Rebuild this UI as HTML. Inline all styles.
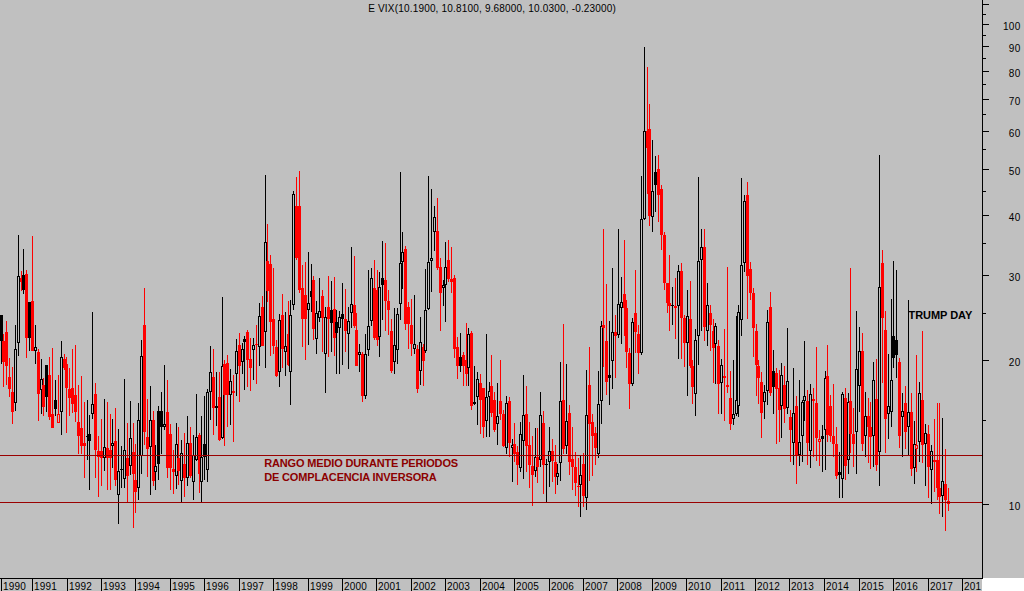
<!DOCTYPE html>
<html><head><meta charset="utf-8"><title>VIX</title>
<style>html,body{margin:0;padding:0;background:#c0c0c0;}body{width:1024px;height:591px;overflow:hidden;position:relative;font-family:"Liberation Sans",Arial,sans-serif;}
svg{position:absolute;left:0;top:0;display:block}
.t{position:absolute;white-space:nowrap;line-height:1;color:#000;}
.yl{font-size:10px;text-align:right;width:40px;letter-spacing:0.3px}
.xl{font-size:10px;top:581.5px;letter-spacing:0.2px}
</style></head><body>
<svg width="1024" height="591" viewBox="0 0 1024 591" shape-rendering="crispEdges">
<rect x="0" y="0" width="1024" height="591" fill="#c0c0c0"/>
<rect x="983" y="578" width="41" height="13" fill="#ffffff"/>
<rect x="982" y="579" width="1" height="12" fill="#ffffff"/>
<rect x="1" y="315" width="1" height="49" fill="#000000"/>
<rect x="0" y="315" width="3" height="26" fill="#000000"/>
<rect x="3" y="334" width="1" height="53" fill="#ff0000"/>
<rect x="2" y="341" width="3" height="21" fill="#ff0000"/>
<rect x="6" y="321" width="1" height="64" fill="#ff0000"/>
<rect x="5" y="332" width="3" height="34" fill="#ff0000"/>
<rect x="9" y="358" width="1" height="39" fill="#ff0000"/>
<rect x="8" y="377" width="3" height="12" fill="#ff0000"/>
<rect x="12" y="367" width="1" height="57" fill="#ff0000"/>
<rect x="11" y="392" width="3" height="20" fill="#ff0000"/>
<rect x="15" y="325" width="1" height="24" fill="#000000"/>
<rect x="15" y="403" width="1" height="8" fill="#000000"/>
<rect x="14" y="349" width="3" height="1" fill="#000000"/>
<rect x="14" y="402" width="3" height="1" fill="#000000"/>
<rect x="14" y="349" width="1" height="54" fill="#000000"/>
<rect x="16" y="349" width="1" height="54" fill="#000000"/>
<rect x="18" y="235" width="1" height="41" fill="#000000"/>
<rect x="18" y="343" width="1" height="13" fill="#000000"/>
<rect x="17" y="276" width="3" height="1" fill="#000000"/>
<rect x="17" y="342" width="3" height="1" fill="#000000"/>
<rect x="17" y="276" width="1" height="67" fill="#000000"/>
<rect x="19" y="276" width="1" height="67" fill="#000000"/>
<rect x="21" y="271" width="1" height="20" fill="#ff0000"/>
<rect x="20" y="278" width="3" height="4" fill="#ff0000"/>
<rect x="23" y="249" width="1" height="45" fill="#000000"/>
<rect x="22" y="275" width="3" height="15" fill="#000000"/>
<rect x="26" y="270" width="1" height="88" fill="#ff0000"/>
<rect x="25" y="274" width="3" height="64" fill="#ff0000"/>
<rect x="29" y="302" width="1" height="49" fill="#000000"/>
<rect x="28" y="302" width="3" height="36" fill="#000000"/>
<rect x="32" y="236" width="1" height="115" fill="#ff0000"/>
<rect x="31" y="301" width="3" height="50" fill="#ff0000"/>
<rect x="35" y="325" width="1" height="22" fill="#000000"/>
<rect x="35" y="351" width="1" height="13" fill="#000000"/>
<rect x="34" y="347" width="3" height="1" fill="#000000"/>
<rect x="34" y="350" width="3" height="1" fill="#000000"/>
<rect x="34" y="347" width="1" height="4" fill="#000000"/>
<rect x="36" y="347" width="1" height="4" fill="#000000"/>
<rect x="38" y="349" width="1" height="72" fill="#ff0000"/>
<rect x="37" y="352" width="3" height="42" fill="#ff0000"/>
<rect x="41" y="359" width="1" height="20" fill="#000000"/>
<rect x="41" y="390" width="1" height="24" fill="#000000"/>
<rect x="40" y="379" width="3" height="1" fill="#000000"/>
<rect x="40" y="389" width="3" height="1" fill="#000000"/>
<rect x="40" y="379" width="1" height="11" fill="#000000"/>
<rect x="42" y="379" width="1" height="11" fill="#000000"/>
<rect x="43" y="378" width="1" height="38" fill="#ff0000"/>
<rect x="42" y="385" width="3" height="22" fill="#ff0000"/>
<rect x="46" y="365" width="1" height="47" fill="#000000"/>
<rect x="45" y="365" width="3" height="32" fill="#000000"/>
<rect x="49" y="357" width="1" height="63" fill="#ff0000"/>
<rect x="48" y="375" width="3" height="42" fill="#ff0000"/>
<rect x="52" y="348" width="1" height="80" fill="#ff0000"/>
<rect x="51" y="414" width="3" height="14" fill="#ff0000"/>
<rect x="55" y="380" width="1" height="36" fill="#000000"/>
<rect x="54" y="400" width="3" height="9" fill="#000000"/>
<rect x="58" y="375" width="1" height="39" fill="#ff0000"/>
<rect x="58" y="423" width="1" height="0" fill="#ff0000"/>
<rect x="57" y="414" width="3" height="1" fill="#ff0000"/>
<rect x="57" y="422" width="3" height="1" fill="#ff0000"/>
<rect x="57" y="414" width="1" height="9" fill="#ff0000"/>
<rect x="59" y="414" width="1" height="9" fill="#ff0000"/>
<rect x="61" y="341" width="1" height="16" fill="#000000"/>
<rect x="61" y="412" width="1" height="23" fill="#000000"/>
<rect x="60" y="357" width="3" height="1" fill="#000000"/>
<rect x="60" y="411" width="3" height="1" fill="#000000"/>
<rect x="60" y="357" width="1" height="55" fill="#000000"/>
<rect x="62" y="357" width="1" height="55" fill="#000000"/>
<rect x="64" y="354" width="1" height="16" fill="#ff0000"/>
<rect x="63" y="359" width="3" height="9" fill="#ff0000"/>
<rect x="66" y="357" width="1" height="76" fill="#ff0000"/>
<rect x="65" y="364" width="3" height="24" fill="#ff0000"/>
<rect x="69" y="368" width="1" height="48" fill="#ff0000"/>
<rect x="68" y="389" width="3" height="9" fill="#ff0000"/>
<rect x="72" y="349" width="1" height="64" fill="#ff0000"/>
<rect x="71" y="388" width="3" height="16" fill="#ff0000"/>
<rect x="75" y="345" width="1" height="77" fill="#ff0000"/>
<rect x="74" y="395" width="3" height="17" fill="#ff0000"/>
<rect x="78" y="385" width="1" height="69" fill="#ff0000"/>
<rect x="77" y="422" width="3" height="14" fill="#ff0000"/>
<rect x="81" y="376" width="1" height="78" fill="#ff0000"/>
<rect x="80" y="428" width="3" height="18" fill="#ff0000"/>
<rect x="84" y="402" width="1" height="76" fill="#ff0000"/>
<rect x="83" y="443" width="3" height="3" fill="#ff0000"/>
<rect x="87" y="400" width="1" height="36" fill="#000000"/>
<rect x="87" y="437" width="1" height="23" fill="#000000"/>
<rect x="86" y="436" width="3" height="1" fill="#000000"/>
<rect x="89" y="415" width="1" height="75" fill="#000000"/>
<rect x="88" y="434" width="3" height="7" fill="#000000"/>
<rect x="92" y="312" width="1" height="92" fill="#000000"/>
<rect x="92" y="414" width="1" height="5" fill="#000000"/>
<rect x="91" y="404" width="3" height="1" fill="#000000"/>
<rect x="91" y="413" width="3" height="1" fill="#000000"/>
<rect x="91" y="404" width="1" height="10" fill="#000000"/>
<rect x="93" y="404" width="1" height="10" fill="#000000"/>
<rect x="95" y="383" width="1" height="95" fill="#ff0000"/>
<rect x="94" y="394" width="3" height="56" fill="#ff0000"/>
<rect x="98" y="436" width="1" height="61" fill="#ff0000"/>
<rect x="97" y="451" width="3" height="6" fill="#ff0000"/>
<rect x="101" y="419" width="1" height="67" fill="#ff0000"/>
<rect x="100" y="451" width="3" height="7" fill="#ff0000"/>
<rect x="104" y="399" width="1" height="48" fill="#000000"/>
<rect x="104" y="458" width="1" height="13" fill="#000000"/>
<rect x="103" y="447" width="3" height="1" fill="#000000"/>
<rect x="103" y="457" width="3" height="1" fill="#000000"/>
<rect x="103" y="447" width="1" height="11" fill="#000000"/>
<rect x="105" y="447" width="1" height="11" fill="#000000"/>
<rect x="107" y="402" width="1" height="88" fill="#ff0000"/>
<rect x="106" y="448" width="3" height="10" fill="#ff0000"/>
<rect x="110" y="414" width="1" height="76" fill="#ff0000"/>
<rect x="109" y="450" width="3" height="8" fill="#ff0000"/>
<rect x="112" y="419" width="1" height="24" fill="#000000"/>
<rect x="112" y="446" width="1" height="22" fill="#000000"/>
<rect x="111" y="443" width="3" height="1" fill="#000000"/>
<rect x="111" y="445" width="3" height="1" fill="#000000"/>
<rect x="111" y="443" width="1" height="3" fill="#000000"/>
<rect x="113" y="443" width="1" height="3" fill="#000000"/>
<rect x="115" y="408" width="1" height="78" fill="#ff0000"/>
<rect x="114" y="441" width="3" height="39" fill="#ff0000"/>
<rect x="118" y="429" width="1" height="42" fill="#000000"/>
<rect x="118" y="495" width="1" height="29" fill="#000000"/>
<rect x="117" y="471" width="3" height="1" fill="#000000"/>
<rect x="117" y="494" width="3" height="1" fill="#000000"/>
<rect x="117" y="471" width="1" height="24" fill="#000000"/>
<rect x="119" y="471" width="1" height="24" fill="#000000"/>
<rect x="121" y="446" width="1" height="23" fill="#000000"/>
<rect x="121" y="470" width="1" height="18" fill="#000000"/>
<rect x="120" y="469" width="3" height="1" fill="#000000"/>
<rect x="124" y="379" width="1" height="71" fill="#000000"/>
<rect x="124" y="479" width="1" height="9" fill="#000000"/>
<rect x="123" y="450" width="3" height="1" fill="#000000"/>
<rect x="123" y="478" width="3" height="1" fill="#000000"/>
<rect x="123" y="450" width="1" height="29" fill="#000000"/>
<rect x="125" y="450" width="1" height="29" fill="#000000"/>
<rect x="127" y="423" width="1" height="80" fill="#ff0000"/>
<rect x="126" y="458" width="3" height="18" fill="#ff0000"/>
<rect x="130" y="401" width="1" height="37" fill="#000000"/>
<rect x="130" y="466" width="1" height="9" fill="#000000"/>
<rect x="129" y="438" width="3" height="1" fill="#000000"/>
<rect x="129" y="465" width="3" height="1" fill="#000000"/>
<rect x="129" y="438" width="1" height="28" fill="#000000"/>
<rect x="131" y="438" width="1" height="28" fill="#000000"/>
<rect x="133" y="423" width="1" height="105" fill="#ff0000"/>
<rect x="132" y="452" width="3" height="22" fill="#ff0000"/>
<rect x="135" y="444" width="1" height="69" fill="#ff0000"/>
<rect x="134" y="480" width="3" height="12" fill="#ff0000"/>
<rect x="138" y="403" width="1" height="17" fill="#000000"/>
<rect x="138" y="488" width="1" height="12" fill="#000000"/>
<rect x="137" y="420" width="3" height="1" fill="#000000"/>
<rect x="137" y="487" width="3" height="1" fill="#000000"/>
<rect x="137" y="420" width="1" height="68" fill="#000000"/>
<rect x="139" y="420" width="1" height="68" fill="#000000"/>
<rect x="141" y="340" width="1" height="16" fill="#000000"/>
<rect x="141" y="456" width="1" height="18" fill="#000000"/>
<rect x="140" y="356" width="3" height="1" fill="#000000"/>
<rect x="140" y="455" width="3" height="1" fill="#000000"/>
<rect x="140" y="356" width="1" height="100" fill="#000000"/>
<rect x="142" y="356" width="1" height="100" fill="#000000"/>
<rect x="144" y="288" width="1" height="157" fill="#ff0000"/>
<rect x="143" y="325" width="3" height="107" fill="#ff0000"/>
<rect x="147" y="399" width="1" height="78" fill="#ff0000"/>
<rect x="146" y="437" width="3" height="12" fill="#ff0000"/>
<rect x="150" y="386" width="1" height="34" fill="#000000"/>
<rect x="150" y="447" width="1" height="48" fill="#000000"/>
<rect x="149" y="420" width="3" height="1" fill="#000000"/>
<rect x="149" y="446" width="3" height="1" fill="#000000"/>
<rect x="149" y="420" width="1" height="27" fill="#000000"/>
<rect x="151" y="420" width="1" height="27" fill="#000000"/>
<rect x="153" y="411" width="1" height="75" fill="#ff0000"/>
<rect x="152" y="420" width="3" height="61" fill="#ff0000"/>
<rect x="155" y="445" width="1" height="21" fill="#000000"/>
<rect x="155" y="472" width="1" height="18" fill="#000000"/>
<rect x="154" y="466" width="3" height="1" fill="#000000"/>
<rect x="154" y="471" width="3" height="1" fill="#000000"/>
<rect x="154" y="466" width="1" height="6" fill="#000000"/>
<rect x="156" y="466" width="1" height="6" fill="#000000"/>
<rect x="158" y="406" width="1" height="74" fill="#000000"/>
<rect x="157" y="411" width="3" height="53" fill="#000000"/>
<rect x="161" y="392" width="1" height="62" fill="#000000"/>
<rect x="160" y="411" width="3" height="16" fill="#000000"/>
<rect x="164" y="365" width="1" height="59" fill="#000000"/>
<rect x="164" y="427" width="1" height="3" fill="#000000"/>
<rect x="163" y="424" width="3" height="1" fill="#000000"/>
<rect x="163" y="426" width="3" height="1" fill="#000000"/>
<rect x="163" y="424" width="1" height="3" fill="#000000"/>
<rect x="165" y="424" width="1" height="3" fill="#000000"/>
<rect x="167" y="380" width="1" height="98" fill="#ff0000"/>
<rect x="166" y="412" width="3" height="56" fill="#ff0000"/>
<rect x="170" y="424" width="1" height="66" fill="#ff0000"/>
<rect x="169" y="434" width="3" height="34" fill="#ff0000"/>
<rect x="173" y="450" width="1" height="44" fill="#ff0000"/>
<rect x="172" y="469" width="3" height="3" fill="#ff0000"/>
<rect x="176" y="423" width="1" height="21" fill="#000000"/>
<rect x="176" y="476" width="1" height="13" fill="#000000"/>
<rect x="175" y="444" width="3" height="1" fill="#000000"/>
<rect x="175" y="475" width="3" height="1" fill="#000000"/>
<rect x="175" y="444" width="1" height="32" fill="#000000"/>
<rect x="177" y="444" width="1" height="32" fill="#000000"/>
<rect x="178" y="427" width="1" height="58" fill="#ff0000"/>
<rect x="177" y="458" width="3" height="13" fill="#ff0000"/>
<rect x="181" y="440" width="1" height="13" fill="#000000"/>
<rect x="181" y="481" width="1" height="22" fill="#000000"/>
<rect x="180" y="453" width="3" height="1" fill="#000000"/>
<rect x="180" y="480" width="3" height="1" fill="#000000"/>
<rect x="180" y="453" width="1" height="28" fill="#000000"/>
<rect x="182" y="453" width="1" height="28" fill="#000000"/>
<rect x="184" y="433" width="1" height="64" fill="#ff0000"/>
<rect x="183" y="464" width="3" height="14" fill="#ff0000"/>
<rect x="187" y="416" width="1" height="27" fill="#000000"/>
<rect x="187" y="478" width="1" height="8" fill="#000000"/>
<rect x="186" y="443" width="3" height="1" fill="#000000"/>
<rect x="186" y="477" width="3" height="1" fill="#000000"/>
<rect x="186" y="443" width="1" height="35" fill="#000000"/>
<rect x="188" y="443" width="1" height="35" fill="#000000"/>
<rect x="190" y="427" width="1" height="51" fill="#ff0000"/>
<rect x="189" y="443" width="3" height="33" fill="#ff0000"/>
<rect x="193" y="435" width="1" height="20" fill="#000000"/>
<rect x="193" y="482" width="1" height="18" fill="#000000"/>
<rect x="192" y="455" width="3" height="1" fill="#000000"/>
<rect x="192" y="481" width="3" height="1" fill="#000000"/>
<rect x="192" y="455" width="1" height="27" fill="#000000"/>
<rect x="194" y="455" width="1" height="27" fill="#000000"/>
<rect x="196" y="394" width="1" height="43" fill="#000000"/>
<rect x="196" y="460" width="1" height="1" fill="#000000"/>
<rect x="195" y="437" width="3" height="1" fill="#000000"/>
<rect x="195" y="459" width="3" height="1" fill="#000000"/>
<rect x="195" y="437" width="1" height="23" fill="#000000"/>
<rect x="197" y="437" width="1" height="23" fill="#000000"/>
<rect x="199" y="433" width="1" height="60" fill="#ff0000"/>
<rect x="198" y="435" width="3" height="39" fill="#ff0000"/>
<rect x="201" y="416" width="1" height="41" fill="#000000"/>
<rect x="201" y="482" width="1" height="21" fill="#000000"/>
<rect x="200" y="457" width="3" height="1" fill="#000000"/>
<rect x="200" y="481" width="3" height="1" fill="#000000"/>
<rect x="200" y="457" width="1" height="25" fill="#000000"/>
<rect x="202" y="457" width="1" height="25" fill="#000000"/>
<rect x="204" y="396" width="1" height="84" fill="#000000"/>
<rect x="203" y="444" width="3" height="13" fill="#000000"/>
<rect x="207" y="389" width="1" height="3" fill="#000000"/>
<rect x="207" y="470" width="1" height="12" fill="#000000"/>
<rect x="206" y="392" width="3" height="1" fill="#000000"/>
<rect x="206" y="469" width="3" height="1" fill="#000000"/>
<rect x="206" y="392" width="1" height="78" fill="#000000"/>
<rect x="208" y="392" width="1" height="78" fill="#000000"/>
<rect x="210" y="346" width="1" height="26" fill="#000000"/>
<rect x="210" y="392" width="1" height="28" fill="#000000"/>
<rect x="209" y="372" width="3" height="1" fill="#000000"/>
<rect x="209" y="391" width="3" height="1" fill="#000000"/>
<rect x="209" y="372" width="1" height="20" fill="#000000"/>
<rect x="211" y="372" width="1" height="20" fill="#000000"/>
<rect x="213" y="349" width="1" height="86" fill="#ff0000"/>
<rect x="212" y="377" width="3" height="31" fill="#ff0000"/>
<rect x="216" y="372" width="1" height="34" fill="#000000"/>
<rect x="216" y="408" width="1" height="18" fill="#000000"/>
<rect x="215" y="406" width="3" height="2" fill="#000000"/>
<rect x="219" y="372" width="1" height="69" fill="#ff0000"/>
<rect x="218" y="397" width="3" height="43" fill="#ff0000"/>
<rect x="222" y="297" width="1" height="69" fill="#000000"/>
<rect x="222" y="438" width="1" height="1" fill="#000000"/>
<rect x="221" y="366" width="3" height="1" fill="#000000"/>
<rect x="221" y="437" width="3" height="1" fill="#000000"/>
<rect x="221" y="366" width="1" height="72" fill="#000000"/>
<rect x="223" y="366" width="1" height="72" fill="#000000"/>
<rect x="224" y="360" width="1" height="86" fill="#ff0000"/>
<rect x="223" y="364" width="3" height="31" fill="#ff0000"/>
<rect x="227" y="355" width="1" height="72" fill="#ff0000"/>
<rect x="226" y="363" width="3" height="32" fill="#ff0000"/>
<rect x="230" y="369" width="1" height="12" fill="#000000"/>
<rect x="230" y="395" width="1" height="30" fill="#000000"/>
<rect x="229" y="381" width="3" height="1" fill="#000000"/>
<rect x="229" y="394" width="3" height="1" fill="#000000"/>
<rect x="229" y="381" width="1" height="14" fill="#000000"/>
<rect x="231" y="381" width="1" height="14" fill="#000000"/>
<rect x="233" y="375" width="1" height="67" fill="#ff0000"/>
<rect x="232" y="391" width="3" height="2" fill="#ff0000"/>
<rect x="236" y="339" width="1" height="12" fill="#000000"/>
<rect x="236" y="374" width="1" height="22" fill="#000000"/>
<rect x="235" y="351" width="3" height="1" fill="#000000"/>
<rect x="235" y="373" width="3" height="1" fill="#000000"/>
<rect x="235" y="351" width="1" height="23" fill="#000000"/>
<rect x="237" y="351" width="1" height="23" fill="#000000"/>
<rect x="239" y="333" width="1" height="69" fill="#ff0000"/>
<rect x="238" y="345" width="3" height="21" fill="#ff0000"/>
<rect x="242" y="343" width="1" height="6" fill="#000000"/>
<rect x="242" y="362" width="1" height="12" fill="#000000"/>
<rect x="241" y="349" width="3" height="1" fill="#000000"/>
<rect x="241" y="361" width="3" height="1" fill="#000000"/>
<rect x="241" y="349" width="1" height="13" fill="#000000"/>
<rect x="243" y="349" width="1" height="13" fill="#000000"/>
<rect x="244" y="336" width="1" height="54" fill="#000000"/>
<rect x="243" y="339" width="3" height="3" fill="#000000"/>
<rect x="247" y="330" width="1" height="57" fill="#ff0000"/>
<rect x="246" y="332" width="3" height="28" fill="#ff0000"/>
<rect x="250" y="338" width="1" height="53" fill="#ff0000"/>
<rect x="249" y="359" width="3" height="9" fill="#ff0000"/>
<rect x="253" y="338" width="1" height="7" fill="#000000"/>
<rect x="253" y="350" width="1" height="30" fill="#000000"/>
<rect x="252" y="345" width="3" height="1" fill="#000000"/>
<rect x="252" y="349" width="3" height="1" fill="#000000"/>
<rect x="252" y="345" width="1" height="5" fill="#000000"/>
<rect x="254" y="345" width="1" height="5" fill="#000000"/>
<rect x="256" y="325" width="1" height="59" fill="#ff0000"/>
<rect x="255" y="344" width="3" height="1" fill="#ff0000"/>
<rect x="259" y="303" width="1" height="13" fill="#000000"/>
<rect x="259" y="347" width="1" height="19" fill="#000000"/>
<rect x="258" y="316" width="3" height="1" fill="#000000"/>
<rect x="258" y="346" width="3" height="1" fill="#000000"/>
<rect x="258" y="316" width="1" height="31" fill="#000000"/>
<rect x="260" y="316" width="1" height="31" fill="#000000"/>
<rect x="262" y="296" width="1" height="50" fill="#ff0000"/>
<rect x="261" y="307" width="3" height="39" fill="#ff0000"/>
<rect x="265" y="175" width="1" height="67" fill="#000000"/>
<rect x="265" y="332" width="1" height="36" fill="#000000"/>
<rect x="264" y="242" width="3" height="1" fill="#000000"/>
<rect x="264" y="331" width="3" height="1" fill="#000000"/>
<rect x="264" y="242" width="1" height="90" fill="#000000"/>
<rect x="266" y="242" width="1" height="90" fill="#000000"/>
<rect x="267" y="224" width="1" height="78" fill="#ff0000"/>
<rect x="266" y="261" width="3" height="30" fill="#ff0000"/>
<rect x="270" y="255" width="1" height="101" fill="#ff0000"/>
<rect x="269" y="264" width="3" height="58" fill="#ff0000"/>
<rect x="273" y="268" width="1" height="86" fill="#ff0000"/>
<rect x="272" y="319" width="3" height="27" fill="#ff0000"/>
<rect x="276" y="340" width="1" height="37" fill="#ff0000"/>
<rect x="275" y="347" width="3" height="29" fill="#ff0000"/>
<rect x="279" y="314" width="1" height="6" fill="#000000"/>
<rect x="279" y="372" width="1" height="15" fill="#000000"/>
<rect x="278" y="320" width="3" height="1" fill="#000000"/>
<rect x="278" y="371" width="3" height="1" fill="#000000"/>
<rect x="278" y="320" width="1" height="52" fill="#000000"/>
<rect x="280" y="320" width="1" height="52" fill="#000000"/>
<rect x="282" y="294" width="1" height="74" fill="#ff0000"/>
<rect x="281" y="315" width="3" height="34" fill="#ff0000"/>
<rect x="285" y="312" width="1" height="34" fill="#000000"/>
<rect x="285" y="352" width="1" height="24" fill="#000000"/>
<rect x="284" y="346" width="3" height="1" fill="#000000"/>
<rect x="284" y="351" width="3" height="1" fill="#000000"/>
<rect x="284" y="346" width="1" height="6" fill="#000000"/>
<rect x="286" y="346" width="1" height="6" fill="#000000"/>
<rect x="288" y="301" width="1" height="65" fill="#ff0000"/>
<rect x="287" y="334" width="3" height="31" fill="#ff0000"/>
<rect x="290" y="300" width="1" height="15" fill="#000000"/>
<rect x="290" y="372" width="1" height="33" fill="#000000"/>
<rect x="289" y="315" width="3" height="1" fill="#000000"/>
<rect x="289" y="371" width="3" height="1" fill="#000000"/>
<rect x="289" y="315" width="1" height="57" fill="#000000"/>
<rect x="291" y="315" width="1" height="57" fill="#000000"/>
<rect x="293" y="191" width="1" height="3" fill="#000000"/>
<rect x="293" y="305" width="1" height="5" fill="#000000"/>
<rect x="292" y="194" width="3" height="1" fill="#000000"/>
<rect x="292" y="304" width="3" height="1" fill="#000000"/>
<rect x="292" y="194" width="1" height="111" fill="#000000"/>
<rect x="294" y="194" width="1" height="111" fill="#000000"/>
<rect x="296" y="177" width="1" height="83" fill="#ff0000"/>
<rect x="295" y="206" width="3" height="52" fill="#ff0000"/>
<rect x="299" y="171" width="1" height="122" fill="#ff0000"/>
<rect x="298" y="206" width="3" height="84" fill="#ff0000"/>
<rect x="302" y="265" width="1" height="82" fill="#ff0000"/>
<rect x="301" y="288" width="3" height="31" fill="#ff0000"/>
<rect x="305" y="262" width="1" height="98" fill="#ff0000"/>
<rect x="304" y="295" width="3" height="24" fill="#ff0000"/>
<rect x="308" y="252" width="1" height="51" fill="#000000"/>
<rect x="308" y="310" width="1" height="35" fill="#000000"/>
<rect x="307" y="303" width="3" height="1" fill="#000000"/>
<rect x="307" y="309" width="3" height="1" fill="#000000"/>
<rect x="307" y="303" width="1" height="7" fill="#000000"/>
<rect x="309" y="303" width="1" height="7" fill="#000000"/>
<rect x="311" y="264" width="1" height="48" fill="#000000"/>
<rect x="310" y="291" width="3" height="6" fill="#000000"/>
<rect x="313" y="276" width="1" height="64" fill="#ff0000"/>
<rect x="312" y="280" width="3" height="49" fill="#ff0000"/>
<rect x="316" y="301" width="1" height="12" fill="#000000"/>
<rect x="316" y="339" width="1" height="15" fill="#000000"/>
<rect x="315" y="313" width="3" height="1" fill="#000000"/>
<rect x="315" y="338" width="3" height="1" fill="#000000"/>
<rect x="315" y="313" width="1" height="26" fill="#000000"/>
<rect x="317" y="313" width="1" height="26" fill="#000000"/>
<rect x="319" y="278" width="1" height="33" fill="#000000"/>
<rect x="319" y="318" width="1" height="4" fill="#000000"/>
<rect x="318" y="311" width="3" height="1" fill="#000000"/>
<rect x="318" y="317" width="3" height="1" fill="#000000"/>
<rect x="318" y="311" width="1" height="7" fill="#000000"/>
<rect x="320" y="311" width="1" height="7" fill="#000000"/>
<rect x="322" y="290" width="1" height="62" fill="#ff0000"/>
<rect x="321" y="296" width="3" height="22" fill="#ff0000"/>
<rect x="325" y="307" width="1" height="10" fill="#000000"/>
<rect x="325" y="354" width="1" height="39" fill="#000000"/>
<rect x="324" y="317" width="3" height="1" fill="#000000"/>
<rect x="324" y="353" width="3" height="1" fill="#000000"/>
<rect x="324" y="317" width="1" height="37" fill="#000000"/>
<rect x="326" y="317" width="1" height="37" fill="#000000"/>
<rect x="328" y="276" width="1" height="81" fill="#ff0000"/>
<rect x="327" y="307" width="3" height="12" fill="#ff0000"/>
<rect x="331" y="281" width="1" height="71" fill="#000000"/>
<rect x="330" y="310" width="3" height="13" fill="#000000"/>
<rect x="334" y="277" width="1" height="79" fill="#ff0000"/>
<rect x="333" y="309" width="3" height="29" fill="#ff0000"/>
<rect x="336" y="310" width="1" height="64" fill="#000000"/>
<rect x="335" y="322" width="3" height="11" fill="#000000"/>
<rect x="339" y="311" width="1" height="6" fill="#000000"/>
<rect x="339" y="328" width="1" height="46" fill="#000000"/>
<rect x="338" y="317" width="3" height="1" fill="#000000"/>
<rect x="338" y="327" width="3" height="1" fill="#000000"/>
<rect x="338" y="317" width="1" height="11" fill="#000000"/>
<rect x="340" y="317" width="1" height="11" fill="#000000"/>
<rect x="342" y="283" width="1" height="82" fill="#000000"/>
<rect x="341" y="314" width="3" height="5" fill="#000000"/>
<rect x="345" y="289" width="1" height="63" fill="#ff0000"/>
<rect x="344" y="319" width="3" height="12" fill="#ff0000"/>
<rect x="348" y="307" width="1" height="14" fill="#000000"/>
<rect x="348" y="334" width="1" height="35" fill="#000000"/>
<rect x="347" y="321" width="3" height="1" fill="#000000"/>
<rect x="347" y="333" width="3" height="1" fill="#000000"/>
<rect x="347" y="321" width="1" height="13" fill="#000000"/>
<rect x="349" y="321" width="1" height="13" fill="#000000"/>
<rect x="351" y="247" width="1" height="57" fill="#000000"/>
<rect x="351" y="313" width="1" height="15" fill="#000000"/>
<rect x="350" y="304" width="3" height="1" fill="#000000"/>
<rect x="350" y="312" width="3" height="1" fill="#000000"/>
<rect x="350" y="304" width="1" height="9" fill="#000000"/>
<rect x="352" y="304" width="1" height="9" fill="#000000"/>
<rect x="354" y="256" width="1" height="72" fill="#ff0000"/>
<rect x="353" y="305" width="3" height="21" fill="#ff0000"/>
<rect x="356" y="313" width="1" height="53" fill="#ff0000"/>
<rect x="355" y="330" width="3" height="36" fill="#ff0000"/>
<rect x="359" y="344" width="1" height="8" fill="#000000"/>
<rect x="359" y="355" width="1" height="17" fill="#000000"/>
<rect x="358" y="352" width="3" height="1" fill="#000000"/>
<rect x="358" y="354" width="3" height="1" fill="#000000"/>
<rect x="358" y="352" width="1" height="3" fill="#000000"/>
<rect x="360" y="352" width="1" height="3" fill="#000000"/>
<rect x="362" y="352" width="1" height="50" fill="#ff0000"/>
<rect x="361" y="354" width="3" height="42" fill="#ff0000"/>
<rect x="365" y="334" width="1" height="20" fill="#000000"/>
<rect x="365" y="396" width="1" height="3" fill="#000000"/>
<rect x="364" y="354" width="3" height="1" fill="#000000"/>
<rect x="364" y="395" width="3" height="1" fill="#000000"/>
<rect x="364" y="354" width="1" height="42" fill="#000000"/>
<rect x="366" y="354" width="1" height="42" fill="#000000"/>
<rect x="368" y="270" width="1" height="56" fill="#000000"/>
<rect x="368" y="350" width="1" height="6" fill="#000000"/>
<rect x="367" y="326" width="3" height="1" fill="#000000"/>
<rect x="367" y="349" width="3" height="1" fill="#000000"/>
<rect x="367" y="326" width="1" height="24" fill="#000000"/>
<rect x="369" y="326" width="1" height="24" fill="#000000"/>
<rect x="371" y="268" width="1" height="10" fill="#000000"/>
<rect x="371" y="321" width="1" height="5" fill="#000000"/>
<rect x="370" y="278" width="3" height="1" fill="#000000"/>
<rect x="370" y="320" width="3" height="1" fill="#000000"/>
<rect x="370" y="278" width="1" height="43" fill="#000000"/>
<rect x="372" y="278" width="1" height="43" fill="#000000"/>
<rect x="374" y="260" width="1" height="80" fill="#ff0000"/>
<rect x="373" y="288" width="3" height="50" fill="#ff0000"/>
<rect x="377" y="270" width="1" height="76" fill="#ff0000"/>
<rect x="376" y="290" width="3" height="50" fill="#ff0000"/>
<rect x="379" y="272" width="1" height="15" fill="#000000"/>
<rect x="379" y="337" width="1" height="20" fill="#000000"/>
<rect x="378" y="287" width="3" height="1" fill="#000000"/>
<rect x="378" y="336" width="3" height="1" fill="#000000"/>
<rect x="378" y="287" width="1" height="50" fill="#000000"/>
<rect x="380" y="287" width="1" height="50" fill="#000000"/>
<rect x="382" y="241" width="1" height="79" fill="#000000"/>
<rect x="381" y="278" width="3" height="7" fill="#000000"/>
<rect x="385" y="243" width="1" height="88" fill="#ff0000"/>
<rect x="384" y="280" width="3" height="21" fill="#ff0000"/>
<rect x="388" y="290" width="1" height="45" fill="#ff0000"/>
<rect x="387" y="301" width="3" height="9" fill="#ff0000"/>
<rect x="391" y="319" width="1" height="54" fill="#ff0000"/>
<rect x="390" y="331" width="3" height="40" fill="#ff0000"/>
<rect x="394" y="308" width="1" height="37" fill="#000000"/>
<rect x="394" y="362" width="1" height="12" fill="#000000"/>
<rect x="393" y="345" width="3" height="1" fill="#000000"/>
<rect x="393" y="361" width="3" height="1" fill="#000000"/>
<rect x="393" y="345" width="1" height="17" fill="#000000"/>
<rect x="395" y="345" width="1" height="17" fill="#000000"/>
<rect x="397" y="308" width="1" height="6" fill="#000000"/>
<rect x="397" y="350" width="1" height="14" fill="#000000"/>
<rect x="396" y="314" width="3" height="1" fill="#000000"/>
<rect x="396" y="349" width="3" height="1" fill="#000000"/>
<rect x="396" y="314" width="1" height="36" fill="#000000"/>
<rect x="398" y="314" width="1" height="36" fill="#000000"/>
<rect x="400" y="172" width="1" height="91" fill="#000000"/>
<rect x="400" y="304" width="1" height="16" fill="#000000"/>
<rect x="399" y="263" width="3" height="1" fill="#000000"/>
<rect x="399" y="303" width="3" height="1" fill="#000000"/>
<rect x="399" y="263" width="1" height="41" fill="#000000"/>
<rect x="401" y="263" width="1" height="41" fill="#000000"/>
<rect x="402" y="232" width="1" height="20" fill="#000000"/>
<rect x="402" y="262" width="1" height="27" fill="#000000"/>
<rect x="401" y="252" width="3" height="1" fill="#000000"/>
<rect x="401" y="261" width="3" height="1" fill="#000000"/>
<rect x="401" y="252" width="1" height="10" fill="#000000"/>
<rect x="403" y="252" width="1" height="10" fill="#000000"/>
<rect x="405" y="246" width="1" height="84" fill="#ff0000"/>
<rect x="404" y="249" width="3" height="75" fill="#ff0000"/>
<rect x="408" y="302" width="1" height="47" fill="#ff0000"/>
<rect x="407" y="307" width="3" height="17" fill="#ff0000"/>
<rect x="411" y="299" width="1" height="57" fill="#ff0000"/>
<rect x="410" y="325" width="3" height="19" fill="#ff0000"/>
<rect x="414" y="295" width="1" height="49" fill="#000000"/>
<rect x="414" y="349" width="1" height="5" fill="#000000"/>
<rect x="413" y="344" width="3" height="1" fill="#000000"/>
<rect x="413" y="348" width="3" height="1" fill="#000000"/>
<rect x="413" y="344" width="1" height="5" fill="#000000"/>
<rect x="415" y="344" width="1" height="5" fill="#000000"/>
<rect x="417" y="345" width="1" height="48" fill="#ff0000"/>
<rect x="416" y="349" width="3" height="40" fill="#ff0000"/>
<rect x="420" y="317" width="1" height="25" fill="#000000"/>
<rect x="420" y="371" width="1" height="14" fill="#000000"/>
<rect x="419" y="342" width="3" height="1" fill="#000000"/>
<rect x="419" y="370" width="3" height="1" fill="#000000"/>
<rect x="419" y="342" width="1" height="29" fill="#000000"/>
<rect x="421" y="342" width="1" height="29" fill="#000000"/>
<rect x="423" y="344" width="1" height="42" fill="#ff0000"/>
<rect x="422" y="347" width="3" height="14" fill="#ff0000"/>
<rect x="425" y="269" width="1" height="41" fill="#000000"/>
<rect x="425" y="351" width="1" height="2" fill="#000000"/>
<rect x="424" y="310" width="3" height="1" fill="#000000"/>
<rect x="424" y="350" width="3" height="1" fill="#000000"/>
<rect x="424" y="310" width="1" height="41" fill="#000000"/>
<rect x="426" y="310" width="1" height="41" fill="#000000"/>
<rect x="428" y="176" width="1" height="86" fill="#000000"/>
<rect x="428" y="309" width="1" height="1" fill="#000000"/>
<rect x="427" y="262" width="3" height="1" fill="#000000"/>
<rect x="427" y="308" width="3" height="1" fill="#000000"/>
<rect x="427" y="262" width="1" height="47" fill="#000000"/>
<rect x="429" y="262" width="1" height="47" fill="#000000"/>
<rect x="431" y="189" width="1" height="69" fill="#000000"/>
<rect x="431" y="261" width="1" height="31" fill="#000000"/>
<rect x="430" y="258" width="3" height="1" fill="#000000"/>
<rect x="430" y="260" width="3" height="1" fill="#000000"/>
<rect x="430" y="258" width="1" height="3" fill="#000000"/>
<rect x="432" y="258" width="1" height="3" fill="#000000"/>
<rect x="434" y="206" width="1" height="11" fill="#000000"/>
<rect x="434" y="232" width="1" height="19" fill="#000000"/>
<rect x="433" y="217" width="3" height="1" fill="#000000"/>
<rect x="433" y="231" width="3" height="1" fill="#000000"/>
<rect x="433" y="217" width="1" height="15" fill="#000000"/>
<rect x="435" y="217" width="1" height="15" fill="#000000"/>
<rect x="437" y="198" width="1" height="72" fill="#ff0000"/>
<rect x="436" y="231" width="3" height="37" fill="#ff0000"/>
<rect x="440" y="258" width="1" height="73" fill="#ff0000"/>
<rect x="439" y="267" width="3" height="26" fill="#ff0000"/>
<rect x="443" y="280" width="1" height="5" fill="#000000"/>
<rect x="443" y="288" width="1" height="18" fill="#000000"/>
<rect x="442" y="285" width="3" height="1" fill="#000000"/>
<rect x="442" y="287" width="3" height="1" fill="#000000"/>
<rect x="442" y="285" width="1" height="3" fill="#000000"/>
<rect x="444" y="285" width="1" height="3" fill="#000000"/>
<rect x="445" y="242" width="1" height="25" fill="#000000"/>
<rect x="445" y="285" width="1" height="37" fill="#000000"/>
<rect x="444" y="267" width="3" height="1" fill="#000000"/>
<rect x="444" y="284" width="3" height="1" fill="#000000"/>
<rect x="444" y="267" width="1" height="18" fill="#000000"/>
<rect x="446" y="267" width="1" height="18" fill="#000000"/>
<rect x="448" y="240" width="1" height="42" fill="#ff0000"/>
<rect x="447" y="260" width="3" height="19" fill="#ff0000"/>
<rect x="451" y="247" width="1" height="46" fill="#ff0000"/>
<rect x="450" y="279" width="3" height="3" fill="#ff0000"/>
<rect x="454" y="275" width="1" height="83" fill="#ff0000"/>
<rect x="453" y="278" width="3" height="71" fill="#ff0000"/>
<rect x="457" y="337" width="1" height="42" fill="#ff0000"/>
<rect x="456" y="347" width="3" height="19" fill="#ff0000"/>
<rect x="460" y="333" width="1" height="39" fill="#000000"/>
<rect x="459" y="357" width="3" height="9" fill="#000000"/>
<rect x="463" y="352" width="1" height="34" fill="#ff0000"/>
<rect x="462" y="355" width="3" height="11" fill="#ff0000"/>
<rect x="466" y="323" width="1" height="63" fill="#ff0000"/>
<rect x="465" y="360" width="3" height="14" fill="#ff0000"/>
<rect x="468" y="328" width="1" height="6" fill="#000000"/>
<rect x="468" y="368" width="1" height="18" fill="#000000"/>
<rect x="467" y="334" width="3" height="1" fill="#000000"/>
<rect x="467" y="367" width="3" height="1" fill="#000000"/>
<rect x="467" y="334" width="1" height="34" fill="#000000"/>
<rect x="469" y="334" width="1" height="34" fill="#000000"/>
<rect x="471" y="331" width="1" height="79" fill="#ff0000"/>
<rect x="470" y="333" width="3" height="73" fill="#ff0000"/>
<rect x="474" y="366" width="1" height="36" fill="#000000"/>
<rect x="474" y="404" width="1" height="1" fill="#000000"/>
<rect x="473" y="402" width="3" height="2" fill="#000000"/>
<rect x="477" y="372" width="1" height="7" fill="#000000"/>
<rect x="477" y="397" width="1" height="28" fill="#000000"/>
<rect x="476" y="379" width="3" height="1" fill="#000000"/>
<rect x="476" y="396" width="3" height="1" fill="#000000"/>
<rect x="476" y="379" width="1" height="18" fill="#000000"/>
<rect x="478" y="379" width="1" height="18" fill="#000000"/>
<rect x="480" y="374" width="1" height="60" fill="#ff0000"/>
<rect x="479" y="383" width="3" height="17" fill="#ff0000"/>
<rect x="483" y="388" width="1" height="50" fill="#ff0000"/>
<rect x="482" y="388" width="3" height="39" fill="#ff0000"/>
<rect x="486" y="334" width="1" height="63" fill="#000000"/>
<rect x="486" y="421" width="1" height="16" fill="#000000"/>
<rect x="485" y="397" width="3" height="1" fill="#000000"/>
<rect x="485" y="420" width="3" height="1" fill="#000000"/>
<rect x="485" y="397" width="1" height="24" fill="#000000"/>
<rect x="487" y="397" width="1" height="24" fill="#000000"/>
<rect x="489" y="382" width="1" height="9" fill="#000000"/>
<rect x="489" y="397" width="1" height="40" fill="#000000"/>
<rect x="488" y="391" width="3" height="1" fill="#000000"/>
<rect x="488" y="396" width="3" height="1" fill="#000000"/>
<rect x="488" y="391" width="1" height="6" fill="#000000"/>
<rect x="490" y="391" width="1" height="6" fill="#000000"/>
<rect x="491" y="355" width="1" height="62" fill="#ff0000"/>
<rect x="490" y="386" width="3" height="27" fill="#ff0000"/>
<rect x="494" y="392" width="1" height="40" fill="#ff0000"/>
<rect x="493" y="400" width="3" height="30" fill="#ff0000"/>
<rect x="497" y="383" width="1" height="33" fill="#000000"/>
<rect x="497" y="424" width="1" height="21" fill="#000000"/>
<rect x="496" y="416" width="3" height="1" fill="#000000"/>
<rect x="496" y="423" width="3" height="1" fill="#000000"/>
<rect x="496" y="416" width="1" height="8" fill="#000000"/>
<rect x="498" y="416" width="1" height="8" fill="#000000"/>
<rect x="500" y="360" width="1" height="60" fill="#ff0000"/>
<rect x="499" y="401" width="3" height="13" fill="#ff0000"/>
<rect x="503" y="410" width="1" height="37" fill="#ff0000"/>
<rect x="502" y="414" width="3" height="32" fill="#ff0000"/>
<rect x="506" y="396" width="1" height="7" fill="#000000"/>
<rect x="506" y="448" width="1" height="6" fill="#000000"/>
<rect x="505" y="403" width="3" height="1" fill="#000000"/>
<rect x="505" y="447" width="3" height="1" fill="#000000"/>
<rect x="505" y="403" width="1" height="45" fill="#000000"/>
<rect x="507" y="403" width="1" height="45" fill="#000000"/>
<rect x="509" y="397" width="1" height="60" fill="#ff0000"/>
<rect x="508" y="401" width="3" height="42" fill="#ff0000"/>
<rect x="512" y="439" width="1" height="6" fill="#000000"/>
<rect x="512" y="448" width="1" height="34" fill="#000000"/>
<rect x="511" y="445" width="3" height="1" fill="#000000"/>
<rect x="511" y="447" width="3" height="1" fill="#000000"/>
<rect x="511" y="445" width="1" height="3" fill="#000000"/>
<rect x="513" y="445" width="1" height="3" fill="#000000"/>
<rect x="514" y="423" width="1" height="39" fill="#ff0000"/>
<rect x="513" y="444" width="3" height="10" fill="#ff0000"/>
<rect x="517" y="446" width="1" height="39" fill="#ff0000"/>
<rect x="516" y="452" width="3" height="13" fill="#ff0000"/>
<rect x="520" y="422" width="1" height="12" fill="#000000"/>
<rect x="520" y="468" width="1" height="4" fill="#000000"/>
<rect x="519" y="434" width="3" height="1" fill="#000000"/>
<rect x="519" y="467" width="3" height="1" fill="#000000"/>
<rect x="519" y="434" width="1" height="34" fill="#000000"/>
<rect x="521" y="434" width="1" height="34" fill="#000000"/>
<rect x="523" y="375" width="1" height="40" fill="#000000"/>
<rect x="523" y="441" width="1" height="38" fill="#000000"/>
<rect x="522" y="415" width="3" height="1" fill="#000000"/>
<rect x="522" y="440" width="3" height="1" fill="#000000"/>
<rect x="522" y="415" width="1" height="26" fill="#000000"/>
<rect x="524" y="415" width="1" height="26" fill="#000000"/>
<rect x="526" y="386" width="1" height="86" fill="#ff0000"/>
<rect x="525" y="414" width="3" height="32" fill="#ff0000"/>
<rect x="529" y="422" width="1" height="66" fill="#ff0000"/>
<rect x="528" y="445" width="3" height="20" fill="#ff0000"/>
<rect x="532" y="436" width="1" height="70" fill="#ff0000"/>
<rect x="531" y="466" width="3" height="9" fill="#ff0000"/>
<rect x="535" y="428" width="1" height="29" fill="#000000"/>
<rect x="535" y="471" width="1" height="6" fill="#000000"/>
<rect x="534" y="457" width="3" height="1" fill="#000000"/>
<rect x="534" y="470" width="3" height="1" fill="#000000"/>
<rect x="534" y="457" width="1" height="14" fill="#000000"/>
<rect x="536" y="457" width="1" height="14" fill="#000000"/>
<rect x="537" y="428" width="1" height="55" fill="#ff0000"/>
<rect x="536" y="457" width="3" height="10" fill="#ff0000"/>
<rect x="540" y="392" width="1" height="23" fill="#000000"/>
<rect x="540" y="460" width="1" height="7" fill="#000000"/>
<rect x="539" y="415" width="3" height="1" fill="#000000"/>
<rect x="539" y="459" width="3" height="1" fill="#000000"/>
<rect x="539" y="415" width="1" height="45" fill="#000000"/>
<rect x="541" y="415" width="1" height="45" fill="#000000"/>
<rect x="543" y="411" width="1" height="83" fill="#ff0000"/>
<rect x="542" y="423" width="3" height="42" fill="#ff0000"/>
<rect x="546" y="459" width="1" height="5" fill="#000000"/>
<rect x="546" y="465" width="1" height="37" fill="#000000"/>
<rect x="545" y="464" width="3" height="1" fill="#000000"/>
<rect x="549" y="427" width="1" height="24" fill="#000000"/>
<rect x="549" y="462" width="1" height="25" fill="#000000"/>
<rect x="548" y="451" width="3" height="1" fill="#000000"/>
<rect x="548" y="461" width="3" height="1" fill="#000000"/>
<rect x="548" y="451" width="1" height="11" fill="#000000"/>
<rect x="550" y="451" width="1" height="11" fill="#000000"/>
<rect x="552" y="439" width="1" height="43" fill="#ff0000"/>
<rect x="551" y="451" width="3" height="10" fill="#ff0000"/>
<rect x="555" y="445" width="1" height="49" fill="#ff0000"/>
<rect x="554" y="462" width="3" height="15" fill="#ff0000"/>
<rect x="557" y="464" width="1" height="9" fill="#000000"/>
<rect x="557" y="477" width="1" height="8" fill="#000000"/>
<rect x="556" y="473" width="3" height="1" fill="#000000"/>
<rect x="556" y="476" width="3" height="1" fill="#000000"/>
<rect x="556" y="473" width="1" height="4" fill="#000000"/>
<rect x="558" y="473" width="1" height="4" fill="#000000"/>
<rect x="560" y="362" width="1" height="39" fill="#000000"/>
<rect x="560" y="463" width="1" height="18" fill="#000000"/>
<rect x="559" y="401" width="3" height="1" fill="#000000"/>
<rect x="559" y="462" width="3" height="1" fill="#000000"/>
<rect x="559" y="401" width="1" height="62" fill="#000000"/>
<rect x="561" y="401" width="1" height="62" fill="#000000"/>
<rect x="563" y="324" width="1" height="130" fill="#ff0000"/>
<rect x="562" y="400" width="3" height="49" fill="#ff0000"/>
<rect x="566" y="364" width="1" height="57" fill="#000000"/>
<rect x="566" y="446" width="1" height="8" fill="#000000"/>
<rect x="565" y="421" width="3" height="1" fill="#000000"/>
<rect x="565" y="445" width="3" height="1" fill="#000000"/>
<rect x="565" y="421" width="1" height="25" fill="#000000"/>
<rect x="567" y="421" width="1" height="25" fill="#000000"/>
<rect x="569" y="405" width="1" height="70" fill="#ff0000"/>
<rect x="568" y="413" width="3" height="49" fill="#ff0000"/>
<rect x="572" y="427" width="1" height="63" fill="#ff0000"/>
<rect x="571" y="459" width="3" height="8" fill="#ff0000"/>
<rect x="575" y="452" width="1" height="44" fill="#ff0000"/>
<rect x="574" y="467" width="3" height="16" fill="#ff0000"/>
<rect x="578" y="458" width="1" height="49" fill="#ff0000"/>
<rect x="577" y="486" width="3" height="1" fill="#ff0000"/>
<rect x="580" y="456" width="1" height="19" fill="#000000"/>
<rect x="580" y="485" width="1" height="32" fill="#000000"/>
<rect x="579" y="475" width="3" height="1" fill="#000000"/>
<rect x="579" y="484" width="3" height="1" fill="#000000"/>
<rect x="579" y="475" width="1" height="10" fill="#000000"/>
<rect x="581" y="475" width="1" height="10" fill="#000000"/>
<rect x="583" y="453" width="1" height="54" fill="#ff0000"/>
<rect x="582" y="464" width="3" height="32" fill="#ff0000"/>
<rect x="586" y="370" width="1" height="45" fill="#000000"/>
<rect x="586" y="498" width="1" height="12" fill="#000000"/>
<rect x="585" y="415" width="3" height="1" fill="#000000"/>
<rect x="585" y="497" width="3" height="1" fill="#000000"/>
<rect x="585" y="415" width="1" height="83" fill="#000000"/>
<rect x="587" y="415" width="1" height="83" fill="#000000"/>
<rect x="589" y="347" width="1" height="134" fill="#ff0000"/>
<rect x="588" y="385" width="3" height="39" fill="#ff0000"/>
<rect x="592" y="414" width="1" height="62" fill="#ff0000"/>
<rect x="591" y="422" width="3" height="14" fill="#ff0000"/>
<rect x="595" y="427" width="1" height="38" fill="#ff0000"/>
<rect x="594" y="433" width="3" height="15" fill="#ff0000"/>
<rect x="598" y="371" width="1" height="33" fill="#000000"/>
<rect x="598" y="454" width="1" height="4" fill="#000000"/>
<rect x="597" y="404" width="3" height="1" fill="#000000"/>
<rect x="597" y="453" width="3" height="1" fill="#000000"/>
<rect x="597" y="404" width="1" height="50" fill="#000000"/>
<rect x="599" y="404" width="1" height="50" fill="#000000"/>
<rect x="601" y="321" width="1" height="5" fill="#000000"/>
<rect x="601" y="401" width="1" height="23" fill="#000000"/>
<rect x="600" y="326" width="3" height="1" fill="#000000"/>
<rect x="600" y="400" width="3" height="1" fill="#000000"/>
<rect x="600" y="326" width="1" height="75" fill="#000000"/>
<rect x="602" y="326" width="1" height="75" fill="#000000"/>
<rect x="603" y="229" width="1" height="138" fill="#ff0000"/>
<rect x="602" y="325" width="3" height="3" fill="#ff0000"/>
<rect x="606" y="284" width="1" height="111" fill="#ff0000"/>
<rect x="605" y="341" width="3" height="41" fill="#ff0000"/>
<rect x="609" y="321" width="1" height="84" fill="#000000"/>
<rect x="608" y="375" width="3" height="3" fill="#000000"/>
<rect x="612" y="268" width="1" height="64" fill="#000000"/>
<rect x="612" y="361" width="1" height="28" fill="#000000"/>
<rect x="611" y="332" width="3" height="1" fill="#000000"/>
<rect x="611" y="360" width="3" height="1" fill="#000000"/>
<rect x="611" y="332" width="1" height="29" fill="#000000"/>
<rect x="613" y="332" width="1" height="29" fill="#000000"/>
<rect x="615" y="315" width="1" height="63" fill="#ff0000"/>
<rect x="614" y="332" width="3" height="4" fill="#ff0000"/>
<rect x="618" y="229" width="1" height="75" fill="#000000"/>
<rect x="618" y="335" width="1" height="3" fill="#000000"/>
<rect x="617" y="304" width="3" height="1" fill="#000000"/>
<rect x="617" y="334" width="3" height="1" fill="#000000"/>
<rect x="617" y="304" width="1" height="31" fill="#000000"/>
<rect x="619" y="304" width="1" height="31" fill="#000000"/>
<rect x="621" y="277" width="1" height="25" fill="#000000"/>
<rect x="621" y="308" width="1" height="36" fill="#000000"/>
<rect x="620" y="302" width="3" height="1" fill="#000000"/>
<rect x="620" y="307" width="3" height="1" fill="#000000"/>
<rect x="620" y="302" width="1" height="6" fill="#000000"/>
<rect x="622" y="302" width="1" height="6" fill="#000000"/>
<rect x="624" y="240" width="1" height="96" fill="#ff0000"/>
<rect x="623" y="294" width="3" height="14" fill="#ff0000"/>
<rect x="626" y="300" width="1" height="68" fill="#ff0000"/>
<rect x="625" y="308" width="3" height="44" fill="#ff0000"/>
<rect x="629" y="348" width="1" height="61" fill="#ff0000"/>
<rect x="628" y="353" width="3" height="31" fill="#ff0000"/>
<rect x="632" y="318" width="1" height="4" fill="#000000"/>
<rect x="632" y="384" width="1" height="2" fill="#000000"/>
<rect x="631" y="322" width="3" height="1" fill="#000000"/>
<rect x="631" y="383" width="3" height="1" fill="#000000"/>
<rect x="631" y="322" width="1" height="62" fill="#000000"/>
<rect x="633" y="322" width="1" height="62" fill="#000000"/>
<rect x="635" y="270" width="1" height="83" fill="#ff0000"/>
<rect x="634" y="313" width="3" height="19" fill="#ff0000"/>
<rect x="638" y="325" width="1" height="49" fill="#ff0000"/>
<rect x="637" y="334" width="3" height="19" fill="#ff0000"/>
<rect x="641" y="176" width="1" height="43" fill="#000000"/>
<rect x="641" y="353" width="1" height="2" fill="#000000"/>
<rect x="640" y="219" width="3" height="1" fill="#000000"/>
<rect x="640" y="352" width="3" height="1" fill="#000000"/>
<rect x="640" y="219" width="1" height="134" fill="#000000"/>
<rect x="642" y="219" width="1" height="134" fill="#000000"/>
<rect x="644" y="47" width="1" height="84" fill="#000000"/>
<rect x="644" y="219" width="1" height="1" fill="#000000"/>
<rect x="643" y="131" width="3" height="1" fill="#000000"/>
<rect x="643" y="218" width="3" height="1" fill="#000000"/>
<rect x="643" y="131" width="1" height="88" fill="#000000"/>
<rect x="645" y="131" width="1" height="88" fill="#000000"/>
<rect x="647" y="67" width="1" height="127" fill="#ff0000"/>
<rect x="646" y="131" width="3" height="17" fill="#ff0000"/>
<rect x="649" y="104" width="1" height="122" fill="#ff0000"/>
<rect x="648" y="129" width="3" height="87" fill="#ff0000"/>
<rect x="652" y="140" width="1" height="51" fill="#000000"/>
<rect x="652" y="217" width="1" height="15" fill="#000000"/>
<rect x="651" y="191" width="3" height="1" fill="#000000"/>
<rect x="651" y="216" width="3" height="1" fill="#000000"/>
<rect x="651" y="191" width="1" height="26" fill="#000000"/>
<rect x="653" y="191" width="1" height="26" fill="#000000"/>
<rect x="655" y="156" width="1" height="56" fill="#000000"/>
<rect x="654" y="172" width="3" height="13" fill="#000000"/>
<rect x="658" y="155" width="1" height="67" fill="#ff0000"/>
<rect x="657" y="169" width="3" height="26" fill="#ff0000"/>
<rect x="661" y="185" width="1" height="65" fill="#ff0000"/>
<rect x="660" y="189" width="3" height="46" fill="#ff0000"/>
<rect x="664" y="232" width="1" height="58" fill="#ff0000"/>
<rect x="663" y="235" width="3" height="48" fill="#ff0000"/>
<rect x="667" y="283" width="1" height="30" fill="#ff0000"/>
<rect x="666" y="283" width="3" height="20" fill="#ff0000"/>
<rect x="669" y="255" width="1" height="76" fill="#ff0000"/>
<rect x="668" y="303" width="3" height="3" fill="#ff0000"/>
<rect x="672" y="287" width="1" height="18" fill="#000000"/>
<rect x="672" y="306" width="1" height="19" fill="#000000"/>
<rect x="671" y="305" width="3" height="1" fill="#000000"/>
<rect x="675" y="278" width="1" height="61" fill="#ff0000"/>
<rect x="674" y="306" width="3" height="2" fill="#ff0000"/>
<rect x="678" y="265" width="1" height="6" fill="#000000"/>
<rect x="678" y="306" width="1" height="53" fill="#000000"/>
<rect x="677" y="271" width="3" height="1" fill="#000000"/>
<rect x="677" y="305" width="3" height="1" fill="#000000"/>
<rect x="677" y="271" width="1" height="35" fill="#000000"/>
<rect x="679" y="271" width="1" height="35" fill="#000000"/>
<rect x="681" y="263" width="1" height="96" fill="#ff0000"/>
<rect x="680" y="271" width="3" height="47" fill="#ff0000"/>
<rect x="684" y="315" width="1" height="52" fill="#ff0000"/>
<rect x="683" y="318" width="3" height="25" fill="#ff0000"/>
<rect x="687" y="290" width="1" height="26" fill="#000000"/>
<rect x="687" y="343" width="1" height="53" fill="#000000"/>
<rect x="686" y="316" width="3" height="1" fill="#000000"/>
<rect x="686" y="342" width="3" height="1" fill="#000000"/>
<rect x="686" y="316" width="1" height="27" fill="#000000"/>
<rect x="688" y="316" width="1" height="27" fill="#000000"/>
<rect x="690" y="281" width="1" height="87" fill="#ff0000"/>
<rect x="689" y="319" width="3" height="47" fill="#ff0000"/>
<rect x="692" y="360" width="1" height="44" fill="#ff0000"/>
<rect x="691" y="366" width="3" height="21" fill="#ff0000"/>
<rect x="695" y="329" width="1" height="11" fill="#000000"/>
<rect x="695" y="394" width="1" height="22" fill="#000000"/>
<rect x="694" y="340" width="3" height="1" fill="#000000"/>
<rect x="694" y="393" width="3" height="1" fill="#000000"/>
<rect x="694" y="340" width="1" height="54" fill="#000000"/>
<rect x="696" y="340" width="1" height="54" fill="#000000"/>
<rect x="698" y="177" width="1" height="84" fill="#000000"/>
<rect x="698" y="336" width="1" height="29" fill="#000000"/>
<rect x="697" y="261" width="3" height="1" fill="#000000"/>
<rect x="697" y="335" width="3" height="1" fill="#000000"/>
<rect x="697" y="261" width="1" height="75" fill="#000000"/>
<rect x="699" y="261" width="1" height="75" fill="#000000"/>
<rect x="701" y="229" width="1" height="18" fill="#000000"/>
<rect x="701" y="260" width="1" height="71" fill="#000000"/>
<rect x="700" y="247" width="3" height="1" fill="#000000"/>
<rect x="700" y="259" width="3" height="1" fill="#000000"/>
<rect x="700" y="247" width="1" height="13" fill="#000000"/>
<rect x="702" y="247" width="1" height="13" fill="#000000"/>
<rect x="704" y="229" width="1" height="112" fill="#ff0000"/>
<rect x="703" y="247" width="3" height="80" fill="#ff0000"/>
<rect x="707" y="283" width="1" height="22" fill="#000000"/>
<rect x="707" y="331" width="1" height="15" fill="#000000"/>
<rect x="706" y="305" width="3" height="1" fill="#000000"/>
<rect x="706" y="330" width="3" height="1" fill="#000000"/>
<rect x="706" y="305" width="1" height="26" fill="#000000"/>
<rect x="708" y="305" width="1" height="26" fill="#000000"/>
<rect x="710" y="305" width="1" height="46" fill="#ff0000"/>
<rect x="709" y="313" width="3" height="12" fill="#ff0000"/>
<rect x="713" y="319" width="1" height="64" fill="#ff0000"/>
<rect x="712" y="331" width="3" height="17" fill="#ff0000"/>
<rect x="715" y="323" width="1" height="3" fill="#000000"/>
<rect x="715" y="344" width="1" height="40" fill="#000000"/>
<rect x="714" y="326" width="3" height="1" fill="#000000"/>
<rect x="714" y="343" width="3" height="1" fill="#000000"/>
<rect x="714" y="326" width="1" height="18" fill="#000000"/>
<rect x="716" y="326" width="1" height="18" fill="#000000"/>
<rect x="718" y="340" width="1" height="74" fill="#ff0000"/>
<rect x="717" y="346" width="3" height="38" fill="#ff0000"/>
<rect x="721" y="359" width="1" height="6" fill="#000000"/>
<rect x="721" y="383" width="1" height="31" fill="#000000"/>
<rect x="720" y="365" width="3" height="1" fill="#000000"/>
<rect x="720" y="382" width="3" height="1" fill="#000000"/>
<rect x="720" y="365" width="1" height="18" fill="#000000"/>
<rect x="722" y="365" width="1" height="18" fill="#000000"/>
<rect x="724" y="329" width="1" height="92" fill="#ff0000"/>
<rect x="723" y="376" width="3" height="2" fill="#ff0000"/>
<rect x="727" y="267" width="1" height="126" fill="#ff0000"/>
<rect x="726" y="385" width="3" height="2" fill="#ff0000"/>
<rect x="730" y="371" width="1" height="59" fill="#ff0000"/>
<rect x="729" y="398" width="3" height="26" fill="#ff0000"/>
<rect x="733" y="360" width="1" height="54" fill="#000000"/>
<rect x="733" y="419" width="1" height="6" fill="#000000"/>
<rect x="732" y="414" width="3" height="1" fill="#000000"/>
<rect x="732" y="418" width="3" height="1" fill="#000000"/>
<rect x="732" y="414" width="1" height="5" fill="#000000"/>
<rect x="734" y="414" width="1" height="5" fill="#000000"/>
<rect x="736" y="316" width="1" height="84" fill="#000000"/>
<rect x="736" y="414" width="1" height="2" fill="#000000"/>
<rect x="735" y="400" width="3" height="1" fill="#000000"/>
<rect x="735" y="413" width="3" height="1" fill="#000000"/>
<rect x="735" y="400" width="1" height="14" fill="#000000"/>
<rect x="737" y="400" width="1" height="14" fill="#000000"/>
<rect x="738" y="305" width="1" height="7" fill="#000000"/>
<rect x="738" y="406" width="1" height="11" fill="#000000"/>
<rect x="737" y="312" width="3" height="1" fill="#000000"/>
<rect x="737" y="405" width="3" height="1" fill="#000000"/>
<rect x="737" y="312" width="1" height="94" fill="#000000"/>
<rect x="739" y="312" width="1" height="94" fill="#000000"/>
<rect x="741" y="178" width="1" height="87" fill="#000000"/>
<rect x="741" y="320" width="1" height="16" fill="#000000"/>
<rect x="740" y="265" width="3" height="1" fill="#000000"/>
<rect x="740" y="319" width="3" height="1" fill="#000000"/>
<rect x="740" y="265" width="1" height="55" fill="#000000"/>
<rect x="742" y="265" width="1" height="55" fill="#000000"/>
<rect x="744" y="195" width="1" height="6" fill="#000000"/>
<rect x="744" y="263" width="1" height="9" fill="#000000"/>
<rect x="743" y="201" width="3" height="1" fill="#000000"/>
<rect x="743" y="262" width="3" height="1" fill="#000000"/>
<rect x="743" y="201" width="1" height="62" fill="#000000"/>
<rect x="745" y="201" width="1" height="62" fill="#000000"/>
<rect x="747" y="182" width="1" height="137" fill="#ff0000"/>
<rect x="746" y="195" width="3" height="81" fill="#ff0000"/>
<rect x="750" y="262" width="1" height="38" fill="#ff0000"/>
<rect x="749" y="269" width="3" height="24" fill="#ff0000"/>
<rect x="753" y="288" width="1" height="69" fill="#ff0000"/>
<rect x="752" y="293" width="3" height="35" fill="#ff0000"/>
<rect x="756" y="324" width="1" height="72" fill="#ff0000"/>
<rect x="755" y="331" width="3" height="34" fill="#ff0000"/>
<rect x="758" y="360" width="1" height="44" fill="#ff0000"/>
<rect x="757" y="366" width="3" height="12" fill="#ff0000"/>
<rect x="761" y="372" width="1" height="66" fill="#ff0000"/>
<rect x="760" y="382" width="3" height="31" fill="#ff0000"/>
<rect x="764" y="385" width="1" height="7" fill="#000000"/>
<rect x="764" y="402" width="1" height="17" fill="#000000"/>
<rect x="763" y="392" width="3" height="1" fill="#000000"/>
<rect x="763" y="401" width="3" height="1" fill="#000000"/>
<rect x="763" y="392" width="1" height="10" fill="#000000"/>
<rect x="765" y="392" width="1" height="10" fill="#000000"/>
<rect x="767" y="310" width="1" height="12" fill="#000000"/>
<rect x="767" y="391" width="1" height="14" fill="#000000"/>
<rect x="766" y="322" width="3" height="1" fill="#000000"/>
<rect x="766" y="390" width="3" height="1" fill="#000000"/>
<rect x="766" y="322" width="1" height="69" fill="#000000"/>
<rect x="768" y="322" width="1" height="69" fill="#000000"/>
<rect x="770" y="292" width="1" height="104" fill="#ff0000"/>
<rect x="769" y="307" width="3" height="86" fill="#ff0000"/>
<rect x="773" y="350" width="1" height="64" fill="#000000"/>
<rect x="772" y="371" width="3" height="16" fill="#000000"/>
<rect x="776" y="368" width="1" height="76" fill="#ff0000"/>
<rect x="775" y="373" width="3" height="16" fill="#ff0000"/>
<rect x="779" y="370" width="1" height="72" fill="#ff0000"/>
<rect x="778" y="388" width="3" height="22" fill="#ff0000"/>
<rect x="781" y="363" width="1" height="12" fill="#000000"/>
<rect x="781" y="406" width="1" height="32" fill="#000000"/>
<rect x="780" y="375" width="3" height="1" fill="#000000"/>
<rect x="780" y="405" width="3" height="1" fill="#000000"/>
<rect x="780" y="375" width="1" height="31" fill="#000000"/>
<rect x="782" y="375" width="1" height="31" fill="#000000"/>
<rect x="784" y="366" width="1" height="57" fill="#ff0000"/>
<rect x="783" y="385" width="3" height="24" fill="#ff0000"/>
<rect x="787" y="328" width="1" height="53" fill="#000000"/>
<rect x="787" y="408" width="1" height="6" fill="#000000"/>
<rect x="786" y="381" width="3" height="1" fill="#000000"/>
<rect x="786" y="407" width="3" height="1" fill="#000000"/>
<rect x="786" y="381" width="1" height="27" fill="#000000"/>
<rect x="788" y="381" width="1" height="27" fill="#000000"/>
<rect x="790" y="410" width="1" height="52" fill="#ff0000"/>
<rect x="789" y="417" width="3" height="13" fill="#ff0000"/>
<rect x="793" y="368" width="1" height="45" fill="#000000"/>
<rect x="793" y="443" width="1" height="22" fill="#000000"/>
<rect x="792" y="413" width="3" height="1" fill="#000000"/>
<rect x="792" y="442" width="3" height="1" fill="#000000"/>
<rect x="792" y="413" width="1" height="30" fill="#000000"/>
<rect x="794" y="413" width="1" height="30" fill="#000000"/>
<rect x="796" y="396" width="1" height="88" fill="#ff0000"/>
<rect x="795" y="406" width="3" height="49" fill="#ff0000"/>
<rect x="799" y="380" width="1" height="62" fill="#000000"/>
<rect x="799" y="455" width="1" height="11" fill="#000000"/>
<rect x="798" y="442" width="3" height="1" fill="#000000"/>
<rect x="798" y="454" width="3" height="1" fill="#000000"/>
<rect x="798" y="442" width="1" height="13" fill="#000000"/>
<rect x="800" y="442" width="1" height="13" fill="#000000"/>
<rect x="802" y="400" width="1" height="2" fill="#000000"/>
<rect x="802" y="436" width="1" height="26" fill="#000000"/>
<rect x="801" y="402" width="3" height="1" fill="#000000"/>
<rect x="801" y="435" width="3" height="1" fill="#000000"/>
<rect x="801" y="402" width="1" height="34" fill="#000000"/>
<rect x="803" y="402" width="1" height="34" fill="#000000"/>
<rect x="804" y="341" width="1" height="55" fill="#000000"/>
<rect x="804" y="401" width="1" height="20" fill="#000000"/>
<rect x="803" y="396" width="3" height="1" fill="#000000"/>
<rect x="803" y="400" width="3" height="1" fill="#000000"/>
<rect x="803" y="396" width="1" height="5" fill="#000000"/>
<rect x="805" y="396" width="1" height="5" fill="#000000"/>
<rect x="807" y="390" width="1" height="75" fill="#ff0000"/>
<rect x="806" y="401" width="3" height="42" fill="#ff0000"/>
<rect x="810" y="384" width="1" height="10" fill="#000000"/>
<rect x="810" y="451" width="1" height="17" fill="#000000"/>
<rect x="809" y="394" width="3" height="1" fill="#000000"/>
<rect x="809" y="450" width="3" height="1" fill="#000000"/>
<rect x="809" y="394" width="1" height="57" fill="#000000"/>
<rect x="811" y="394" width="1" height="57" fill="#000000"/>
<rect x="813" y="388" width="1" height="69" fill="#ff0000"/>
<rect x="812" y="399" width="3" height="2" fill="#ff0000"/>
<rect x="816" y="347" width="1" height="114" fill="#ff0000"/>
<rect x="815" y="403" width="3" height="35" fill="#ff0000"/>
<rect x="819" y="430" width="1" height="9" fill="#ff0000"/>
<rect x="819" y="442" width="1" height="24" fill="#ff0000"/>
<rect x="818" y="439" width="3" height="1" fill="#ff0000"/>
<rect x="818" y="441" width="3" height="1" fill="#ff0000"/>
<rect x="818" y="439" width="1" height="3" fill="#ff0000"/>
<rect x="820" y="439" width="1" height="3" fill="#ff0000"/>
<rect x="822" y="425" width="1" height="47" fill="#000000"/>
<rect x="821" y="436" width="3" height="3" fill="#000000"/>
<rect x="825" y="371" width="1" height="7" fill="#000000"/>
<rect x="825" y="430" width="1" height="40" fill="#000000"/>
<rect x="824" y="378" width="3" height="1" fill="#000000"/>
<rect x="824" y="429" width="3" height="1" fill="#000000"/>
<rect x="824" y="378" width="1" height="52" fill="#000000"/>
<rect x="826" y="378" width="1" height="52" fill="#000000"/>
<rect x="827" y="345" width="1" height="97" fill="#ff0000"/>
<rect x="826" y="376" width="3" height="59" fill="#ff0000"/>
<rect x="830" y="395" width="1" height="47" fill="#ff0000"/>
<rect x="829" y="406" width="3" height="30" fill="#ff0000"/>
<rect x="833" y="384" width="1" height="73" fill="#ff0000"/>
<rect x="832" y="436" width="3" height="8" fill="#ff0000"/>
<rect x="836" y="427" width="1" height="52" fill="#ff0000"/>
<rect x="835" y="444" width="3" height="32" fill="#ff0000"/>
<rect x="839" y="452" width="1" height="46" fill="#000000"/>
<rect x="838" y="472" width="3" height="3" fill="#000000"/>
<rect x="842" y="392" width="1" height="2" fill="#000000"/>
<rect x="842" y="479" width="1" height="19" fill="#000000"/>
<rect x="841" y="394" width="3" height="1" fill="#000000"/>
<rect x="841" y="478" width="3" height="1" fill="#000000"/>
<rect x="841" y="394" width="1" height="85" fill="#000000"/>
<rect x="843" y="394" width="1" height="85" fill="#000000"/>
<rect x="845" y="388" width="1" height="92" fill="#ff0000"/>
<rect x="844" y="398" width="3" height="68" fill="#ff0000"/>
<rect x="848" y="393" width="1" height="9" fill="#000000"/>
<rect x="848" y="460" width="1" height="14" fill="#000000"/>
<rect x="847" y="402" width="3" height="1" fill="#000000"/>
<rect x="847" y="459" width="3" height="1" fill="#000000"/>
<rect x="847" y="402" width="1" height="58" fill="#000000"/>
<rect x="849" y="402" width="1" height="58" fill="#000000"/>
<rect x="850" y="268" width="1" height="185" fill="#ff0000"/>
<rect x="849" y="401" width="3" height="33" fill="#ff0000"/>
<rect x="853" y="408" width="1" height="59" fill="#ff0000"/>
<rect x="852" y="434" width="3" height="10" fill="#ff0000"/>
<rect x="856" y="311" width="1" height="58" fill="#000000"/>
<rect x="856" y="432" width="1" height="42" fill="#000000"/>
<rect x="855" y="369" width="3" height="1" fill="#000000"/>
<rect x="855" y="431" width="3" height="1" fill="#000000"/>
<rect x="855" y="369" width="1" height="63" fill="#000000"/>
<rect x="857" y="369" width="1" height="63" fill="#000000"/>
<rect x="859" y="327" width="1" height="24" fill="#000000"/>
<rect x="859" y="386" width="1" height="26" fill="#000000"/>
<rect x="858" y="351" width="3" height="1" fill="#000000"/>
<rect x="858" y="385" width="3" height="1" fill="#000000"/>
<rect x="858" y="351" width="1" height="35" fill="#000000"/>
<rect x="860" y="351" width="1" height="35" fill="#000000"/>
<rect x="862" y="333" width="1" height="118" fill="#ff0000"/>
<rect x="861" y="351" width="3" height="93" fill="#ff0000"/>
<rect x="865" y="392" width="1" height="24" fill="#000000"/>
<rect x="865" y="436" width="1" height="21" fill="#000000"/>
<rect x="864" y="416" width="3" height="1" fill="#000000"/>
<rect x="864" y="435" width="3" height="1" fill="#000000"/>
<rect x="864" y="416" width="1" height="20" fill="#000000"/>
<rect x="866" y="416" width="1" height="20" fill="#000000"/>
<rect x="868" y="398" width="1" height="65" fill="#ff0000"/>
<rect x="867" y="416" width="3" height="11" fill="#ff0000"/>
<rect x="870" y="402" width="1" height="67" fill="#ff0000"/>
<rect x="869" y="427" width="3" height="10" fill="#ff0000"/>
<rect x="873" y="362" width="1" height="18" fill="#000000"/>
<rect x="873" y="436" width="1" height="31" fill="#000000"/>
<rect x="872" y="380" width="3" height="1" fill="#000000"/>
<rect x="872" y="435" width="3" height="1" fill="#000000"/>
<rect x="872" y="380" width="1" height="56" fill="#000000"/>
<rect x="874" y="380" width="1" height="56" fill="#000000"/>
<rect x="876" y="359" width="1" height="112" fill="#ff0000"/>
<rect x="875" y="399" width="3" height="66" fill="#ff0000"/>
<rect x="879" y="155" width="1" height="132" fill="#000000"/>
<rect x="879" y="452" width="1" height="34" fill="#000000"/>
<rect x="878" y="287" width="3" height="1" fill="#000000"/>
<rect x="878" y="451" width="3" height="1" fill="#000000"/>
<rect x="878" y="287" width="1" height="165" fill="#000000"/>
<rect x="880" y="287" width="1" height="165" fill="#000000"/>
<rect x="882" y="250" width="1" height="133" fill="#ff0000"/>
<rect x="881" y="263" width="3" height="55" fill="#ff0000"/>
<rect x="885" y="311" width="1" height="142" fill="#ff0000"/>
<rect x="884" y="330" width="3" height="89" fill="#ff0000"/>
<rect x="888" y="354" width="1" height="52" fill="#000000"/>
<rect x="888" y="414" width="1" height="25" fill="#000000"/>
<rect x="887" y="406" width="3" height="1" fill="#000000"/>
<rect x="887" y="413" width="3" height="1" fill="#000000"/>
<rect x="887" y="406" width="1" height="8" fill="#000000"/>
<rect x="889" y="406" width="1" height="8" fill="#000000"/>
<rect x="891" y="299" width="1" height="81" fill="#000000"/>
<rect x="891" y="412" width="1" height="15" fill="#000000"/>
<rect x="890" y="380" width="3" height="1" fill="#000000"/>
<rect x="890" y="411" width="3" height="1" fill="#000000"/>
<rect x="890" y="380" width="1" height="32" fill="#000000"/>
<rect x="892" y="380" width="1" height="32" fill="#000000"/>
<rect x="893" y="261" width="1" height="107" fill="#000000"/>
<rect x="892" y="336" width="3" height="22" fill="#000000"/>
<rect x="896" y="270" width="1" height="108" fill="#000000"/>
<rect x="895" y="340" width="3" height="15" fill="#000000"/>
<rect x="899" y="358" width="1" height="90" fill="#ff0000"/>
<rect x="898" y="362" width="3" height="74" fill="#ff0000"/>
<rect x="902" y="393" width="1" height="18" fill="#000000"/>
<rect x="902" y="417" width="1" height="40" fill="#000000"/>
<rect x="901" y="411" width="3" height="1" fill="#000000"/>
<rect x="901" y="416" width="3" height="1" fill="#000000"/>
<rect x="901" y="411" width="1" height="6" fill="#000000"/>
<rect x="903" y="411" width="1" height="6" fill="#000000"/>
<rect x="905" y="386" width="1" height="63" fill="#ff0000"/>
<rect x="904" y="403" width="3" height="29" fill="#ff0000"/>
<rect x="908" y="300" width="1" height="112" fill="#000000"/>
<rect x="908" y="427" width="1" height="28" fill="#000000"/>
<rect x="907" y="412" width="3" height="1" fill="#000000"/>
<rect x="907" y="426" width="3" height="1" fill="#000000"/>
<rect x="907" y="412" width="1" height="15" fill="#000000"/>
<rect x="909" y="412" width="1" height="15" fill="#000000"/>
<rect x="911" y="393" width="1" height="83" fill="#ff0000"/>
<rect x="910" y="412" width="3" height="57" fill="#ff0000"/>
<rect x="914" y="421" width="1" height="23" fill="#000000"/>
<rect x="914" y="468" width="1" height="16" fill="#000000"/>
<rect x="913" y="444" width="3" height="1" fill="#000000"/>
<rect x="913" y="467" width="3" height="1" fill="#000000"/>
<rect x="913" y="444" width="1" height="24" fill="#000000"/>
<rect x="915" y="444" width="1" height="24" fill="#000000"/>
<rect x="916" y="355" width="1" height="90" fill="#ff0000"/>
<rect x="916" y="449" width="1" height="23" fill="#ff0000"/>
<rect x="915" y="445" width="3" height="1" fill="#ff0000"/>
<rect x="915" y="448" width="3" height="1" fill="#ff0000"/>
<rect x="915" y="445" width="1" height="4" fill="#ff0000"/>
<rect x="917" y="445" width="1" height="4" fill="#ff0000"/>
<rect x="919" y="382" width="1" height="11" fill="#000000"/>
<rect x="919" y="442" width="1" height="20" fill="#000000"/>
<rect x="918" y="393" width="3" height="1" fill="#000000"/>
<rect x="918" y="441" width="3" height="1" fill="#000000"/>
<rect x="918" y="393" width="1" height="49" fill="#000000"/>
<rect x="920" y="393" width="1" height="49" fill="#000000"/>
<rect x="922" y="331" width="1" height="132" fill="#ff0000"/>
<rect x="921" y="400" width="3" height="45" fill="#ff0000"/>
<rect x="925" y="424" width="1" height="9" fill="#000000"/>
<rect x="925" y="444" width="1" height="42" fill="#000000"/>
<rect x="924" y="433" width="3" height="1" fill="#000000"/>
<rect x="924" y="443" width="3" height="1" fill="#000000"/>
<rect x="924" y="433" width="1" height="11" fill="#000000"/>
<rect x="926" y="433" width="1" height="11" fill="#000000"/>
<rect x="928" y="425" width="1" height="73" fill="#ff0000"/>
<rect x="927" y="434" width="3" height="33" fill="#ff0000"/>
<rect x="931" y="445" width="1" height="6" fill="#000000"/>
<rect x="931" y="470" width="1" height="34" fill="#000000"/>
<rect x="930" y="451" width="3" height="1" fill="#000000"/>
<rect x="930" y="469" width="3" height="1" fill="#000000"/>
<rect x="930" y="451" width="1" height="19" fill="#000000"/>
<rect x="932" y="451" width="1" height="19" fill="#000000"/>
<rect x="934" y="419" width="1" height="73" fill="#ff0000"/>
<rect x="933" y="460" width="3" height="2" fill="#ff0000"/>
<rect x="937" y="403" width="1" height="97" fill="#ff0000"/>
<rect x="936" y="460" width="3" height="28" fill="#ff0000"/>
<rect x="939" y="403" width="1" height="111" fill="#ff0000"/>
<rect x="938" y="488" width="3" height="9" fill="#ff0000"/>
<rect x="942" y="418" width="1" height="63" fill="#000000"/>
<rect x="942" y="496" width="1" height="21" fill="#000000"/>
<rect x="941" y="481" width="3" height="1" fill="#000000"/>
<rect x="941" y="495" width="3" height="1" fill="#000000"/>
<rect x="941" y="481" width="1" height="15" fill="#000000"/>
<rect x="943" y="481" width="1" height="15" fill="#000000"/>
<rect x="945" y="449" width="1" height="82" fill="#ff0000"/>
<rect x="944" y="484" width="3" height="16" fill="#ff0000"/>
<rect x="948" y="488" width="1" height="23" fill="#ff0000"/>
<rect x="947" y="501" width="3" height="3" fill="#ff0000"/>
<rect x="0" y="455" width="983" height="1" fill="#990000"/>
<rect x="0" y="502" width="983" height="1" fill="#990000"/>
<rect x="982" y="0" width="1" height="579" fill="#000"/>
<rect x="0" y="578" width="983" height="1" fill="#000"/>
<rect x="983" y="4" width="6" height="1" fill="#000"/>
<rect x="983" y="24" width="6" height="1" fill="#000"/>
<rect x="983" y="46" width="6" height="1" fill="#000"/>
<rect x="983" y="71" width="6" height="1" fill="#000"/>
<rect x="983" y="99" width="6" height="1" fill="#000"/>
<rect x="983" y="131" width="6" height="1" fill="#000"/>
<rect x="983" y="169" width="6" height="1" fill="#000"/>
<rect x="983" y="215" width="6" height="1" fill="#000"/>
<rect x="983" y="275" width="6" height="1" fill="#000"/>
<rect x="983" y="360" width="6" height="1" fill="#000"/>
<rect x="983" y="504" width="6" height="1" fill="#000"/>
<rect x="983" y="14" width="3" height="1" fill="#000"/>
<rect x="983" y="35" width="3" height="1" fill="#000"/>
<rect x="983" y="58" width="3" height="1" fill="#000"/>
<rect x="983" y="84" width="3" height="1" fill="#000"/>
<rect x="983" y="114" width="3" height="1" fill="#000"/>
<rect x="983" y="149" width="3" height="1" fill="#000"/>
<rect x="983" y="191" width="3" height="1" fill="#000"/>
<rect x="983" y="243" width="3" height="1" fill="#000"/>
<rect x="983" y="313" width="3" height="1" fill="#000"/>
<rect x="983" y="420" width="3" height="1" fill="#000"/>
<rect x="1" y="579" width="1" height="12" fill="#000"/>
<rect x="32" y="579" width="1" height="12" fill="#000"/>
<rect x="67" y="579" width="1" height="12" fill="#000"/>
<rect x="101" y="579" width="1" height="12" fill="#000"/>
<rect x="135" y="579" width="1" height="12" fill="#000"/>
<rect x="170" y="579" width="1" height="12" fill="#000"/>
<rect x="204" y="579" width="1" height="12" fill="#000"/>
<rect x="239" y="579" width="1" height="12" fill="#000"/>
<rect x="273" y="579" width="1" height="12" fill="#000"/>
<rect x="308" y="579" width="1" height="12" fill="#000"/>
<rect x="342" y="579" width="1" height="12" fill="#000"/>
<rect x="376" y="579" width="1" height="12" fill="#000"/>
<rect x="411" y="579" width="1" height="12" fill="#000"/>
<rect x="445" y="579" width="1" height="12" fill="#000"/>
<rect x="480" y="579" width="1" height="12" fill="#000"/>
<rect x="514" y="579" width="1" height="12" fill="#000"/>
<rect x="549" y="579" width="1" height="12" fill="#000"/>
<rect x="583" y="579" width="1" height="12" fill="#000"/>
<rect x="617" y="579" width="1" height="12" fill="#000"/>
<rect x="652" y="579" width="1" height="12" fill="#000"/>
<rect x="686" y="579" width="1" height="12" fill="#000"/>
<rect x="721" y="579" width="1" height="12" fill="#000"/>
<rect x="755" y="579" width="1" height="12" fill="#000"/>
<rect x="789" y="579" width="1" height="12" fill="#000"/>
<rect x="824" y="579" width="1" height="12" fill="#000"/>
<rect x="859" y="579" width="1" height="12" fill="#000"/>
<rect x="893" y="579" width="1" height="12" fill="#000"/>
<rect x="928" y="579" width="1" height="12" fill="#000"/>
<rect x="962" y="579" width="1" height="12" fill="#000"/>
</svg>
<div class="t yl" style="left:980.5px;top:21.9px">100</div>
<div class="t yl" style="left:980.5px;top:43.9px">90</div>
<div class="t yl" style="left:980.5px;top:68.9px">80</div>
<div class="t yl" style="left:980.5px;top:96.9px">70</div>
<div class="t yl" style="left:980.5px;top:128.9px">60</div>
<div class="t yl" style="left:980.5px;top:166.9px">50</div>
<div class="t yl" style="left:980.5px;top:212.9px">40</div>
<div class="t yl" style="left:980.5px;top:272.9px">30</div>
<div class="t yl" style="left:980.5px;top:357.9px">20</div>
<div class="t yl" style="left:980.5px;top:501.9px">10</div>
<div class="t xl" style="left:3px">1990</div>
<div class="t xl" style="left:34px">1991</div>
<div class="t xl" style="left:69px">1992</div>
<div class="t xl" style="left:103px">1993</div>
<div class="t xl" style="left:137px">1994</div>
<div class="t xl" style="left:172px">1995</div>
<div class="t xl" style="left:206px">1996</div>
<div class="t xl" style="left:241px">1997</div>
<div class="t xl" style="left:275px">1998</div>
<div class="t xl" style="left:310px">1999</div>
<div class="t xl" style="left:344px">2000</div>
<div class="t xl" style="left:378px">2001</div>
<div class="t xl" style="left:413px">2002</div>
<div class="t xl" style="left:447px">2003</div>
<div class="t xl" style="left:482px">2004</div>
<div class="t xl" style="left:516px">2005</div>
<div class="t xl" style="left:551px">2006</div>
<div class="t xl" style="left:585px">2007</div>
<div class="t xl" style="left:619px">2008</div>
<div class="t xl" style="left:654px">2009</div>
<div class="t xl" style="left:688px">2010</div>
<div class="t xl" style="left:723px">2011</div>
<div class="t xl" style="left:757px">2012</div>
<div class="t xl" style="left:791px">2013</div>
<div class="t xl" style="left:826px">2014</div>
<div class="t xl" style="left:861px">2015</div>
<div class="t xl" style="left:895px">2016</div>
<div class="t xl" style="left:930px">2017</div>
<div class="t xl" style="left:964px;width:18px;overflow:hidden">201</div>
<div class="t" style="left:368.2px;top:3.5px;font-size:10px;letter-spacing:0.184px;">E VIX(10.1900, 10.8100, 9.68000, 10.0300, -0.23000)</div>
<div class="t" style="left:264.2px;top:456px;font-size:11px;font-weight:bold;color:#8c0000;line-height:14px;letter-spacing:-0.15px">RANGO MEDIO DURANTE PERIODOS<br>DE COMPLACENCIA INVERSORA</div>
<div class="t" style="left:908.5px;top:310px;font-size:11px;font-weight:bold;letter-spacing:-0.05px;">TRUMP DAY</div>
</body></html>
